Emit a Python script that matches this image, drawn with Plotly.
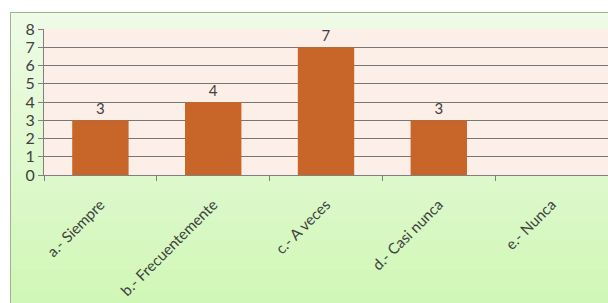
import plotly.graph_objects as go

categories = ["a.- Siempre", "b.- Frecuentemente", "c.- A veces", "d.- Casi nunca", "e.- Nunca"]
values = [3, 4, 7, 3, 0]
labels = ["3", "4", "7", "3", ""]
y_ticks = [0, 1, 2, 3, 4, 5, 6, 7, 8]

W, H = 608, 303
L, R, T, B = 44, 0, 29, 128
pw, ph = W - L - R, H - T - B

def px_x(p):
    return (p - L) / pw

def px_y(p):
    return (H - B - p) / ph

shapes = []
# green gradient chart background
n = 30
top_c = (238, 251, 230)
bot_c = (208, 247, 182)
y0p, y1p = 12, 310
for i in range(n):
    a = y0p + (y1p - y0p) * i / n
    b = y0p + (y1p - y0p) * (i + 1) / n + 1
    t = i / (n - 1)
    c = tuple(round(top_c[k] + (bot_c[k] - top_c[k]) * t) for k in range(3))
    shapes.append(dict(type="rect", xref="paper", yref="paper",
                       x0=px_x(10), x1=px_x(620), y0=px_y(b), y1=px_y(a),
                       fillcolor="rgb(%d,%d,%d)" % c, line=dict(width=0), layer="below"))
# border
shapes.append(dict(type="rect", xref="paper", yref="paper",
                   x0=px_x(10.5), x1=px_x(620), y0=px_y(320), y1=px_y(12.5),
                   fillcolor="rgba(0,0,0,0)", line=dict(color="#9fb38f", width=1), layer="below"))
# plot area
shapes.append(dict(type="rect", xref="paper", yref="paper",
                   x0=0, x1=1, y0=0, y1=1,
                   fillcolor="#fcefe8", line=dict(width=0), layer="below"))

fig = go.Figure()
fig.add_trace(go.Bar(
    x=categories, y=values, marker=dict(color="#c8662a", line=dict(width=0)),
    text=labels, textposition="outside", cliponaxis=False,
    textfont=dict(family="Lato", size=15, color="#404040"),
))

fig.update_layout(
    width=W, height=H,
    margin=dict(l=L, r=R, t=T, b=B, pad=0, autoexpand=False),
    paper_bgcolor="white",
    plot_bgcolor="rgba(0,0,0,0)",
    showlegend=False,
    bargap=0.5,
    shapes=shapes,
    font=dict(family="Lato", size=14, color="#404040"),
)
fig.update_xaxes(
    type="category", tickangle=-45, tickson="boundaries",
    ticks="outside", ticklen=5, tickcolor="#808080",
    showline=True, linecolor="#808080", linewidth=1,
    showgrid=False, tickfont=dict(family="Lato", size=15, color="#404040"),
    ticklabelstandoff=14, automargin=False,
)
fig.update_yaxes(
    range=[0, 8], tickvals=y_ticks, ticks="outside", ticklen=5, tickcolor="#808080",
    showline=True, linecolor="#808080", linewidth=1,
    showgrid=True, gridcolor="#767676", gridwidth=1, zeroline=False,
    tickfont=dict(family="Lato", size=16, color="#404040"), automargin=False,
)

fig.write_html("out.html", config={"displayModeBar": False},
               post_script="document.body.style.margin='0';document.body.style.overflow='hidden';")
